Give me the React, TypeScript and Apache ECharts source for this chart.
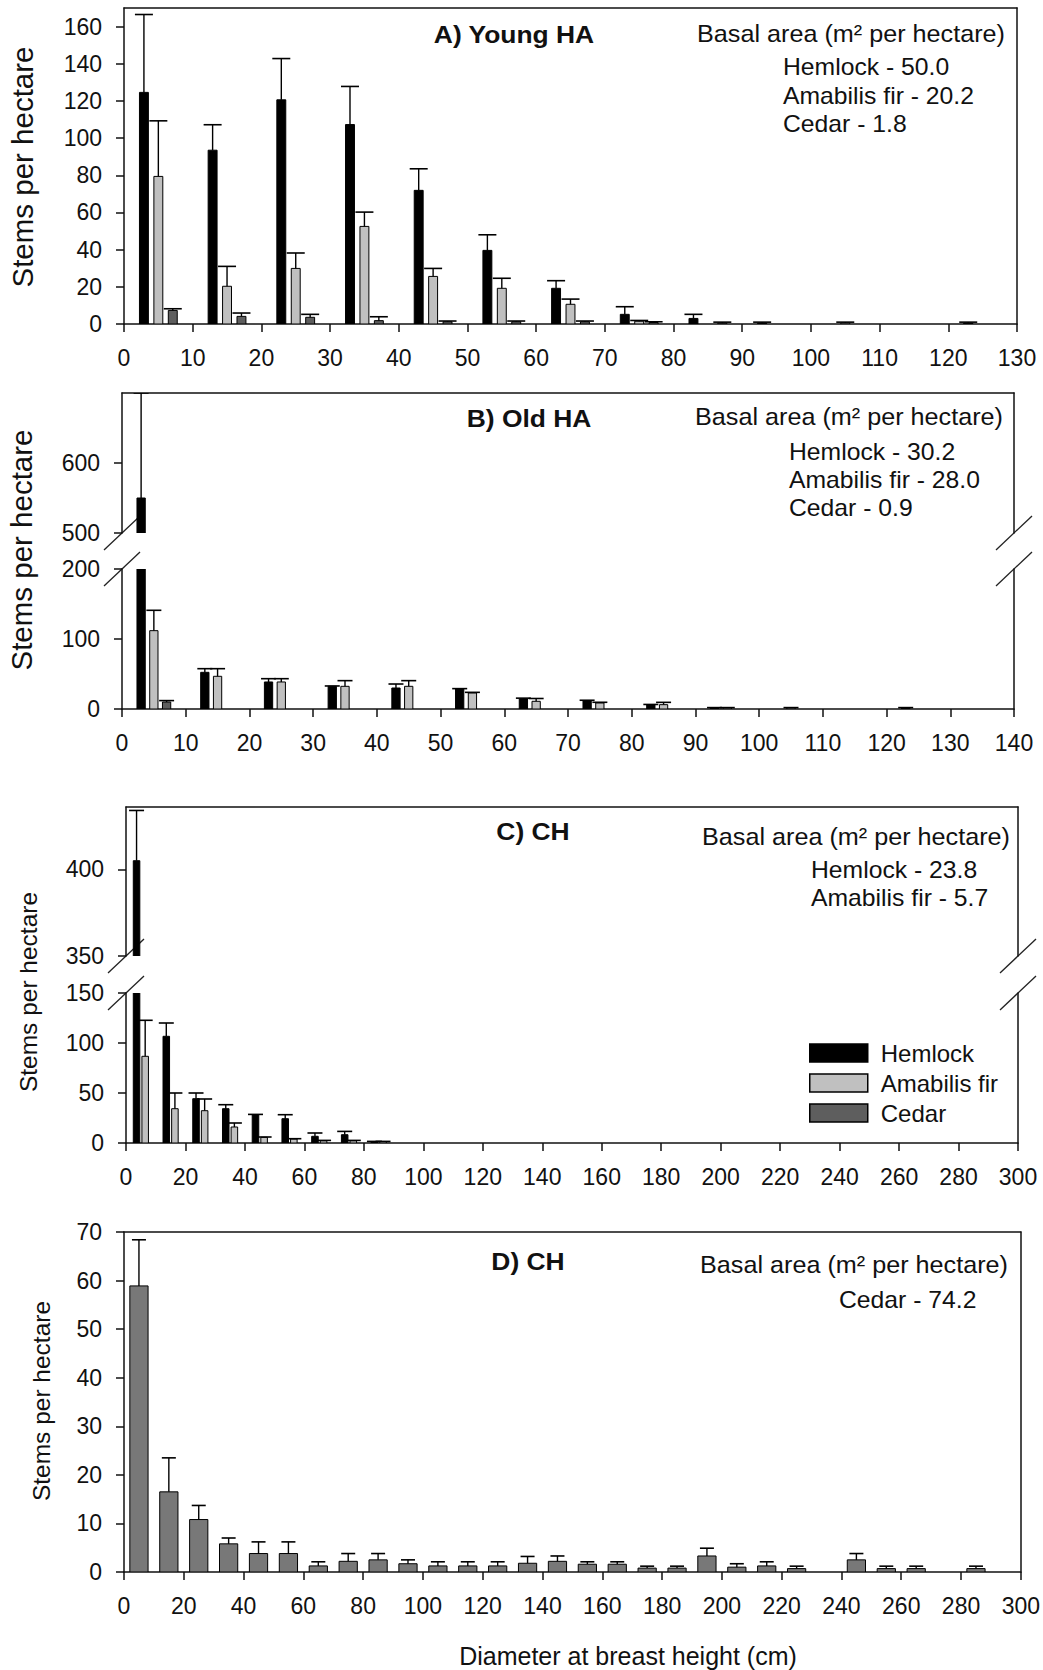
import React, { useEffect, useRef } from "react";
import * as echarts from "echarts";

const FONT = '"Liberation Sans", Arial, Helvetica, sans-serif';
const INK = "#111";

// ---------- Panel A: Young HA ----------
const binsA = [5, 15, 25, 35, 45, 55, 65, 75, 85, 95, 105, 115, 125];
const hemlockA = [124.6, 93.5, 120.6, 107.3, 71.9, 39.6, 19.2, 5.2, 3.0, 0.5, 0, 0, 0.5];
const hemlockErrA = [41.9, 13.7, 22.2, 20.5, 11.6, 8.4, 4.1, 4.1, 2.2, 0.5, 0, 0, 0.5];
const firA = [79.4, 20.3, 29.9, 52.5, 25.6, 19.2, 10.6, 1.5, 0, 0, 0.5, 0, 0];
const firErrA = [29.9, 10.7, 8.3, 7.7, 4.3, 5.4, 2.8, 0.4, 0, 0, 0.5, 0, 0];
const cedarA = [7.3, 4.1, 3.6, 1.8, 1.2, 1.2, 1.2, 0.8, 0.5, 0, 0, 0, 0];
const cedarErrA = [0.9, 1.8, 1.6, 2.1, 0.4, 0.4, 0.4, 0.4, 0.5, 0, 0, 0, 0];

// ---------- Panel B: Old HA ----------
const binsB = [5, 15, 25, 35, 45, 55, 65, 75, 85, 95, 105, 115, 125, 135];
const hemlockB = [550, 52.4, 38.6, 32.4, 30.0, 28.6, 14.5, 12.0, 6.0, 1.5, 0, 0, 1.5, 0];
const hemlockErrB = [150, 5.2, 4.7, 0.5, 5.7, 0.5, 1.0, 0.5, 0.5, 0.5, 0, 0, 0.5, 0];
const firB = [111.9, 46.7, 38.6, 32.4, 32.4, 22.9, 11.0, 8.6, 6.2, 1.5, 1.5, 0, 0, 0];
const firErrB = [29.1, 10.9, 4.7, 8.1, 8.1, 0.9, 4.0, 1.0, 3.3, 0.5, 0.5, 0, 0, 0];
const cedarB = [10, 0, 0, 0, 0, 0, 0, 0, 0, 0, 0, 0, 0, 0];
const cedarErrB = [2, 0, 0, 0, 0, 0, 0, 0, 0, 0, 0, 0, 0, 0];

// ---------- Panel C: CH ----------
const binsC = [5, 15, 25, 35, 45, 55, 65, 75, 85];
const hemlockC = [405, 106.7, 44.3, 34.3, 28.3, 24.3, 6.7, 8.3, 1.3];
const hemlockErrC = [29, 13.3, 5.7, 4, 0.3, 4, 3.3, 3.3, 0.3];
const firC = [86.7, 34.3, 32.3, 16, 5.7, 4, 2.3, 2.3, 1.3];
const firErrC = [36, 15.7, 11.7, 4, 0.3, 0.3, 0.3, 0.3, 0.3];

// ---------- Panel D: CH (cedar) ----------
const binsD = [5, 15, 25, 35, 45, 55, 65, 75, 85, 95, 105, 115, 125, 135, 145, 155, 165, 175, 185, 195, 205, 215, 225, 235, 245, 255, 265, 275, 285, 295];
const cedarD = [58.9, 16.5, 10.8, 5.8, 3.8, 3.8, 1.25, 2.2, 2.5, 1.7, 1.25, 1.25, 1.25, 1.8, 2.2, 1.6, 1.6, 0.8, 0.8, 3.3, 1.0, 1.25, 0.7, 0, 2.5, 0.7, 0.7, 0, 0.7, 0];
const cedarErrD = [9.5, 7.0, 2.9, 1.2, 2.4, 2.4, 0.85, 1.6, 1.3, 0.8, 0.85, 0.85, 0.85, 1.4, 1.1, 0.5, 0.5, 0.4, 0.4, 1.6, 0.7, 0.85, 0.5, 0, 1.3, 0.5, 0.5, 0, 0.5, 0];

// ---------- Tick values ----------
const yTicksA = [0, 20, 40, 60, 80, 100, 120, 140, 160];
const yTicksBUpper = [500, 600];
const yTicksBLower = [0, 100, 200];
const yTicksCUpper = [350, 400];
const yTicksCLower = [0, 50, 100, 150];

// ---------- Text ----------
const SPECIES = ["Hemlock", "Amabilis fir", "Cedar"];
const basalTitle = "Basal area (m² per hectare)";
const basalA = ["Hemlock - 50.0", "Amabilis fir - 20.2", "Cedar - 1.8"];
const basalB = ["Hemlock - 30.2", "Amabilis fir - 28.0", "Cedar - 0.9"];
const basalC = ["Hemlock - 23.8", "Amabilis fir - 5.7"];
const basalD = ["Cedar - 74.2"];

// ---------- Layout (pixels) ----------
const GA = { left: 124, top: 8, width: 893, height: 316 };
const GBu = { left: 122, top: 393, width: 892, height: 140 };
const GBl = { left: 122, top: 569, width: 892, height: 140 };
const GCu = { left: 126, top: 807, width: 892, height: 149 };
const GCl = { left: 126, top: 993, width: 892, height: 150 };
const GD = { left: 124, top: 1232, width: 897, height: 340 };

const FILL = { Hemlock: "#000000", "Amabilis fir": "#c0c0c0", Cedar: "#5e5e5e" } as Record<string, string>;
const LINE = { color: INK, width: 1.5 };

type Rect = { left: number; top: number; width: number; height: number };

function buildOption() {
  const opt: any = {
    animation: false,
    backgroundColor: "#ffffff",
    grid: [],
    xAxis: [],
    yAxis: [],
    series: [],
    graphic: [],
  };

  function addGrid(
    r: Rect,
    x: { min: number; max: number; interval: number },
    y: { min: number; max: number; interval?: number; ticks?: number[] },
    frame: { top: boolean; bottom: boolean }
  ) {
    const gi = opt.grid.length;
    opt.grid.push({ left: r.left, top: r.top, width: r.width, height: r.height, show: false });
    const xi = opt.xAxis.length;
    opt.xAxis.push({
      type: "value", gridIndex: gi, position: "bottom",
      min: x.min, max: x.max, interval: x.interval,
      axisLine: { show: frame.bottom, onZero: false, lineStyle: LINE },
      axisTick: { show: frame.bottom, inside: false, length: 8, lineStyle: LINE },
      axisLabel: { show: frame.bottom, margin: 22, fontSize: 23, color: INK, fontFamily: FONT },
      splitLine: { show: false },
    });
    opt.xAxis.push({
      type: "value", gridIndex: gi, position: "top", min: x.min, max: x.max,
      axisLine: { show: frame.top, onZero: false, lineStyle: LINE },
      axisTick: { show: false }, axisLabel: { show: false }, splitLine: { show: false },
    });
    const yi = opt.yAxis.length;
    const tickCfg: any = { show: true, inside: false, length: 8, lineStyle: LINE };
    const labCfg: any = { show: true, margin: 22, fontSize: 23, color: INK, fontFamily: FONT };
    if (y.ticks) {
      tickCfg.customValues = y.ticks;
      labCfg.customValues = y.ticks;
    }
    opt.yAxis.push({
      type: "value", gridIndex: gi, position: "left",
      min: y.min, max: y.max, interval: y.interval,
      axisLine: { show: true, onZero: false, lineStyle: LINE },
      axisTick: tickCfg, axisLabel: labCfg, splitLine: { show: false },
    });
    opt.yAxis.push({
      type: "value", gridIndex: gi, position: "right", min: y.min, max: y.max,
      axisLine: { show: true, onZero: false, lineStyle: LINE },
      axisTick: { show: false }, axisLabel: { show: false }, splitLine: { show: false },
    });
    return { xi, yi };
  }

  function addBars(
    ax: { xi: number; yi: number },
    name: string,
    bins: number[],
    vals: number[],
    errs: number[],
    offset: number,
    widthUnits: number,
    capPx: number,
    fill: string
  ) {
    opt.series.push({
      type: "custom",
      name,
      xAxisIndex: ax.xi,
      yAxisIndex: ax.yi,
      clip: true,
      itemStyle: { color: fill, borderColor: "#000", borderWidth: 1 },
      encode: { x: 0, y: 1 },
      data: bins.map((b, i) => [b + offset, vals[i], errs[i]]),
      renderItem: (params: any, api: any) => {
        const x = api.value(0);
        const v = api.value(1);
        const e = api.value(2);
        if (!(v > 0) && !(e > 0)) return null;
        const base = api.coord([x, 0]);
        const top = api.coord([x, v]);
        const errTop = api.coord([x, v + e]);
        const w = api.size([widthUnits, 0])[0];
        const children: any[] = [
          {
            type: "rect",
            shape: { x: top[0] - w / 2, y: top[1], width: w, height: base[1] - top[1] },
            style: { fill, stroke: "#000", lineWidth: 1 },
          },
        ];
        if (e > 0) {
          children.push({
            type: "line",
            shape: { x1: top[0], y1: top[1], x2: top[0], y2: errTop[1] },
            style: { stroke: "#000", lineWidth: 1.4 },
          });
          children.push({
            type: "line",
            shape: { x1: top[0] - capPx / 2, y1: errTop[1], x2: top[0] + capPx / 2, y2: errTop[1] },
            style: { stroke: "#000", lineWidth: 1.6 },
          });
        }
        return { type: "group", children };
      },
    });
  }

  function text(str: string, x: number, y: number, size: number, opts: any = {}) {
    opt.graphic.push({
      type: "text",
      x,
      y,
      rotation: opts.rotation || 0,
      scaleX: opts.scaleX || 1,
      silent: true,
      style: {
        text: str,
        fontSize: size,
        fontFamily: FONT,
        fontWeight: opts.bold ? "bold" : "normal",
        fill: INK,
        align: opts.align || "left",
        verticalAlign: "middle",
        textAlign: opts.align || "left",
        textVerticalAlign: "middle",
      },
    });
  }

  function breakMarks(up: Rect, low: Rect) {
    const pts = [
      [up.left, up.top + up.height],
      [up.left + up.width, up.top + up.height],
      [low.left, low.top],
      [low.left + low.width, low.top],
    ];
    pts.forEach(([cx, cy]) => {
      opt.graphic.push({
        type: "line",
        silent: true,
        shape: { x1: cx - 18, y1: cy + 17, x2: cx + 18, y2: cy - 17 },
        style: { stroke: "#222", lineWidth: 1.3 },
      });
    });
  }

  // Panel A
  const a = addGrid(GA, { min: 0, max: 130, interval: 10 }, { min: 0, max: 170, interval: 20, ticks: yTicksA }, { top: true, bottom: true });
  addBars(a, SPECIES[0], binsA, hemlockA, hemlockErrA, -2.1, 1.3, 18, FILL.Hemlock);
  addBars(a, SPECIES[1], binsA, firA, firErrA, 0, 1.3, 18, FILL["Amabilis fir"]);
  addBars(a, SPECIES[2], binsA, cedarA, cedarErrA, 2.1, 1.3, 18, FILL.Cedar);

  // Panel B
  const bu = addGrid(GBu, { min: 0, max: 140, interval: 10 }, { min: 500, max: 700, interval: 100, ticks: yTicksBUpper }, { top: true, bottom: false });
  const bl = addGrid(GBl, { min: 0, max: 140, interval: 10 }, { min: 0, max: 200, interval: 100, ticks: yTicksBLower }, { top: false, bottom: true });
  [bu, bl].forEach((g) => {
    addBars(g, SPECIES[0], binsB, hemlockB, hemlockErrB, -2.0, 1.3, 15, FILL.Hemlock);
    addBars(g, SPECIES[1], binsB, firB, firErrB, 0, 1.3, 15, FILL["Amabilis fir"]);
    addBars(g, SPECIES[2], binsB, cedarB, cedarErrB, 2.0, 1.3, 15, FILL.Cedar);
  });
  breakMarks(GBu, GBl);

  // Panel C
  const cu = addGrid(GCu, { min: 0, max: 300, interval: 20 }, { min: 350, max: 436, interval: 50, ticks: yTicksCUpper }, { top: true, bottom: false });
  const cl = addGrid(GCl, { min: 0, max: 300, interval: 20 }, { min: 0, max: 150, interval: 50, ticks: yTicksCLower }, { top: false, bottom: true });
  [cu, cl].forEach((g) => {
    addBars(g, SPECIES[0], binsC, hemlockC, hemlockErrC, -1.45, 2.2, 15, FILL.Hemlock);
    addBars(g, SPECIES[1], binsC, firC, firErrC, 1.45, 2.2, 15, FILL["Amabilis fir"]);
  });
  breakMarks(GCu, GCl);

  // Panel D
  const d = addGrid(GD, { min: 0, max: 300, interval: 20 }, { min: 0, max: 70, interval: 10 }, { top: true, bottom: true });
  addBars(d, SPECIES[2], binsD, cedarD, cedarErrD, 0, 6.1, 14, "#787878");

  // Legend (panel C)
  opt.legend = {
    orient: "vertical",
    left: 809,
    top: 1041,
    itemWidth: 58,
    itemHeight: 18,
    itemGap: 6,
    padding: 0,
    selectedMode: false,
    textStyle: { fontSize: 24, fontFamily: FONT, color: INK, padding: [0, 0, 0, 8] },
    data: SPECIES.map((s) => ({
      name: s,
      icon: "rect",
      itemStyle: { color: FILL[s], borderColor: "#000", borderWidth: 1.5 },
    })),
  };

  // Panel titles & annotations
  const SX = 1.05;
  const TX = 1.1;
  text("A) Young HA", 514, 34, 24, { bold: true, align: "center", scaleX: TX });
  text(basalTitle, 697, 34, 24, { scaleX: SX });
  basalA.forEach((s, i) => text(s, 783, 67 + i * 28.5, 24, { scaleX: 1.03 }));

  text("B) Old HA", 529, 418, 24, { bold: true, align: "center", scaleX: TX });
  text(basalTitle, 695, 417, 24, { scaleX: SX });
  basalB.forEach((s, i) => text(s, 789, 452 + i * 28, 24, { scaleX: 1.03 }));

  text("C) CH", 533, 831, 24, { bold: true, align: "center", scaleX: TX });
  text(basalTitle, 702, 837, 24, { scaleX: SX });
  basalC.forEach((s, i) => text(s, 811, 870 + i * 28, 24, { scaleX: 1.03 }));

  text("D) CH", 528, 1261, 24, { bold: true, align: "center", scaleX: TX });
  text(basalTitle, 700, 1265, 24, { scaleX: SX });
  basalD.forEach((s, i) => text(s, 839, 1300 + i * 28, 24, { scaleX: 1.03 }));

  // Axis titles
  const rot = Math.PI / 2;
  text("Stems per hectare", 22, 167, 29.5, { rotation: rot, align: "center" });
  text("Stems per hectare", 21, 550, 29.5, { rotation: rot, align: "center" });
  text("Stems per hectare", 28, 992, 24.5, { rotation: rot, align: "center" });
  text("Stems per hectare", 41, 1401, 24.5, { rotation: rot, align: "center" });
  text("Diameter at breast height (cm)", 628, 1656, 25, { align: "center" });

  return opt;
}

export default function App() {
  const ref = useRef<HTMLDivElement>(null);
  useEffect(() => {
    if (!ref.current) return;
    const chart = echarts.init(ref.current, undefined, { renderer: "svg" });
    chart.setOption(buildOption());
    return () => chart.dispose();
  }, []);
  return (
    <div
      ref={ref}
      style={{ position: "absolute", left: 0, top: 0, width: 1043, height: 1670, background: "#fff" }}
    />
  );
}
